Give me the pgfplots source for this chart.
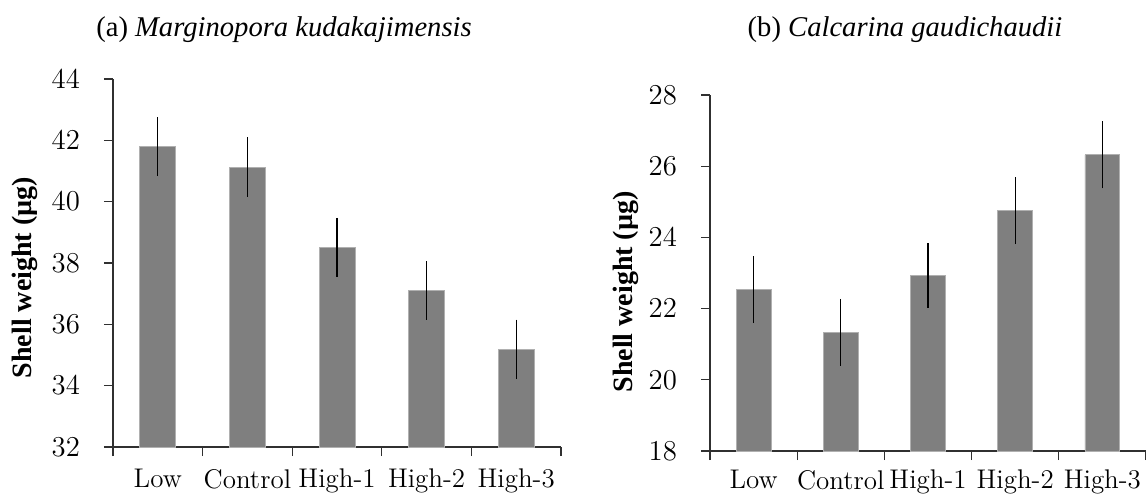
\documentclass[border=0pt]{standalone}
\usepackage{pgfplots}
\pgfplotsset{compat=1.18}
\usepackage{pgfplotstable}
\usepackage{fontspec}
\newfontfamily\titlefont{LiberationSerif}[
  Extension=.ttf,
  UprightFont=*-Regular,
  BoldFont=*-Bold,
  ItalicFont=*-Italic,
  BoldItalicFont=*-BoldItalic]

\definecolor{barfill}{HTML}{7F7F7F}
\definecolor{baredge}{HTML}{B0B0B0}
\definecolor{axisgray}{HTML}{303030}

% shell weight (mean, standard error) per treatment
\pgfplotstableread{
x    w      se
0.5  41.79  0.96
1.5  41.13  0.97
2.5  38.51  0.96
3.5  37.10  0.95
4.5  35.18  0.97
}\marginopora
\pgfplotstableread{
x    w      se
0.5  22.53  0.94
1.5  21.33  0.94
2.5  22.93  0.90
3.5  24.75  0.94
4.5  26.32  0.94
}\calcarina

\pgfplotsset{
  shellstyle/.style={
    scale only axis,
    axis lines*=left,
    axis line style={axisgray, line width=0.6pt},
    tick style={axisgray, line width=0.6pt},
    tick align=outside,
    major tick length=4.5pt,
    xmin=0, xmax=5,
    xtick={0,1,2,3,4,5},
    xticklabels={Low,Control,High-1,High-2,High-3},
    x tick label as interval=true,
    ticklabel style={font=\fontsize{13.5}{15}\selectfont},
    yticklabel style={xshift=-8.5pt},
    ylabel={Shell weight (µg)},
    ylabel style={font=\titlefont\bfseries\fontsize{14}{16}\selectfont, anchor=center},
    ybar, bar width=0.4,
    clip=false,
  },
  shellbars/.style={
    fill=barfill, draw=baredge, line width=0.4pt,
    error bars/.cd, y dir=both, y explicit,
    error mark=none,
    error bar style={black, line width=0.6pt},
  },
}

\begin{document}
\begin{tikzpicture}
\useasboundingbox (0pt,0pt) rectangle (573pt,-246.5pt);

% panel (a)
\begin{axis}[shellstyle,
  at={(56.5pt,-223.5pt)}, anchor=south west,
  width=224pt, height=184pt,
  ymin=32, ymax=44, ytick={32,34,...,44},
  xticklabel style={yshift=-3pt},
  ylabel style={at={(rel axis cs:-0.196,0.46)}},
]
\addplot+[shellbars] table[x=x, y=w, y error=se] {\marginopora};
\end{axis}
\node[font=\titlefont\fontsize{14.3}{16}\selectfont] at (142pt,-15pt) {(a) \textit{Marginopora kudakajimensis}};

% panel (b)
\begin{axis}[shellstyle,
  at={(355pt,-225.5pt)}, anchor=south west,
  width=218pt, height=178pt,
  ymin=18, ymax=28, ytick={18,20,...,28},
  xticklabel style={yshift=-1.5pt},
  ylabel style={at={(rel axis cs:-0.193,0.447)}},
]
\addplot+[shellbars] table[x=x, y=w, y error=se] {\calcarina};
\end{axis}
\node[font=\titlefont\fontsize{14.3}{16}\selectfont] at (452.5pt,-15pt) {(b) \textit{Calcarina gaudichaudii}};
\end{tikzpicture}
\end{document}
